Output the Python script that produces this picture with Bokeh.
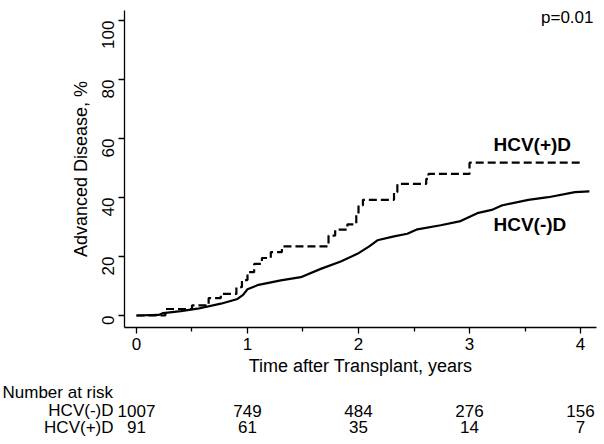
import math
from bokeh.plotting import figure
from bokeh.models import Range1d, FixedTicker, Label
from bokeh.embed import file_html
from bokeh.resources import INLINE
from bokeh.core.properties import value

# ---------------- data ----------------
# HCV(-)D cumulative incidence of advanced disease (%)
neg_t = [0, 0.2, 0.24, 0.4, 0.55, 0.76, 0.91, 0.96, 1.0, 1.1, 1.3, 1.48, 1.66,
         1.84, 1.99, 2.1, 2.17, 2.32, 2.44, 2.53, 2.74, 2.92, 3.07, 3.2, 3.29,
         3.53, 3.71, 3.95, 4.08]
neg_v = [0, 0.2, 0.8, 1.5, 2.3, 4.0, 5.6, 7.0, 8.9, 10.4, 11.9, 13.0, 15.8,
         18.3, 20.9, 23.5, 25.5, 26.8, 27.7, 29.2, 30.6, 32.0, 34.7, 35.8, 37.3,
         39.2, 40.1, 41.8, 42.1]
# HCV(+)D step function
pos_t = [0, 0.26, 0.5, 0.65, 0.76, 0.9, 0.95, 1.0, 1.06, 1.13, 1.21, 1.31,
         1.73, 1.79, 1.9, 1.98, 2.0, 2.04, 2.32, 2.35, 2.61, 2.63, 3.0, 4.0]
pos_v = [0, 2.2, 3.4, 5.9, 7.3, 9.6, 12.0, 14.7, 17.5, 19.5, 21.5, 23.4,
         27.1, 29.1, 30.9, 34.0, 37.3, 39.2, 41.8, 44.6, 46.3, 48.0, 51.8, 51.8]

risk_times = [0, 1, 2, 3, 4]
risk_neg = [1007, 749, 484, 276, 156]
risk_pos = [91, 61, 35, 14, 7]
risk_labels = ["HCV(-)D", "HCV(+)D"]

x_ticks = [0, 1, 2, 3, 4]
x_minor = [0.5, 1.5, 2.5, 3.5]
y_ticks = [0, 20, 40, 60, 80, 100]

# ---------------- layout ----------------
FONT = "Liberation Sans"
W = 600
X0, X1 = -0.108, 4.144
LEFT, RIGHT = 124, 4
ppu = (W - LEFT - RIGHT) / (X1 - X0)
TOP_H = 381

p = figure(width=W, height=TOP_H, x_range=Range1d(X0, X1),
           y_range=Range1d(-4.07, 103.4), output_backend="svg",
           toolbar_location=None, min_border_left=LEFT,
           min_border_right=RIGHT, min_border_top=10, min_border_bottom=54)
p.outline_line_color = None
p.grid.visible = False
p.background_fill_color = "white"

p.line(neg_t, neg_v, line_color="black", line_width=2.2)
p.step(pos_t, pos_v, mode="after", line_color="black", line_width=2.2,
       line_dash="8 4")

for ax in (p.xaxis[0], p.yaxis[0]):
    ax.axis_line_color = "black"
    ax.axis_line_width = 1.3
    ax.major_tick_line_color = "black"
    ax.major_tick_line_width = 1.3
    ax.major_tick_out = 6
    ax.major_tick_in = 0
    ax.major_label_text_font = FONT
    ax.major_label_text_font_size = "17px"
    ax.major_label_text_color = "black"
    ax.axis_label_text_font = FONT
    ax.axis_label_text_font_size = "18px"
    ax.axis_label_text_font_style = "normal"
    ax.axis_label_text_color = "black"

p.xaxis.ticker = FixedTicker(ticks=x_ticks, minor_ticks=x_minor)
p.xaxis.minor_tick_line_color = "black"
p.xaxis.minor_tick_line_width = 1.3
p.xaxis.minor_tick_out = 4
p.xaxis.minor_tick_in = 0
p.xaxis.axis_label = "Time after Transplant, years"
p.xaxis.major_label_standoff = 4
p.xaxis.axis_label_standoff = 3

p.yaxis.ticker = FixedTicker(ticks=y_ticks)
p.yaxis.minor_tick_line_color = None
p.yaxis.major_label_orientation = math.pi / 2
p.yaxis.axis_label = "Advanced Disease, %"
p.yaxis.major_label_standoff = 10
p.yaxis.axis_label_standoff = 3

p.add_layout(Label(x=4.117, y=101, text="p=0.01", text_align="right",
                   text_baseline="middle", text_font=FONT,
                   text_font_size="17px", text_color="black"))
p.add_layout(Label(x=3.216, y=58, text="HCV(+)D", text_align="left",
                   text_baseline="middle", text_font=FONT,
                   text_font_size="19px", text_font_style="bold",
                   text_color="black"))
p.add_layout(Label(x=3.216, y=31, text="HCV(-)D", text_align="left",
                   text_baseline="middle", text_font=FONT,
                   text_font_size="19px", text_font_style="bold",
                   text_color="black"))

# ---------------- number at risk table ----------------
TH = 440 - TOP_H
tx0 = X0 - LEFT / ppu
t = figure(width=W, height=TH, x_range=Range1d(tx0, X1 + RIGHT / ppu),
           y_range=Range1d(TH, 0), output_backend="svg",
           toolbar_location=None, min_border=0,
           x_axis_location=None, y_axis_location=None)
t.outline_line_color = None
t.grid.visible = False

row_y = [10.5, 29, 45.5]
tfs = "17px"
t.text(x=[tx0 + 2 / ppu], y=[row_y[0]], text=["Number at risk"],
       text_align="left", text_baseline="middle", text_font=value(FONT),
       text_font_size=tfs, text_color="black")
lab_x = tx0 + 113 / ppu
t.text(x=[lab_x, lab_x], y=row_y[1:], text=risk_labels,
       text_align="right", text_baseline="middle", text_font=value(FONT),
       text_font_size=tfs, text_color="black")
t.text(x=risk_times, y=[row_y[1]] * len(risk_times),
       text=[str(v) for v in risk_neg], text_align="center",
       text_baseline="middle", text_font=value(FONT), text_font_size=tfs,
       text_color="black")
t.text(x=risk_times, y=[row_y[2]] * len(risk_times),
       text=[str(v) for v in risk_pos], text_align="center",
       text_baseline="middle", text_font=value(FONT), text_font_size=tfs,
       text_color="black")

open("out.html", "w").write(file_html([p, t], INLINE))
